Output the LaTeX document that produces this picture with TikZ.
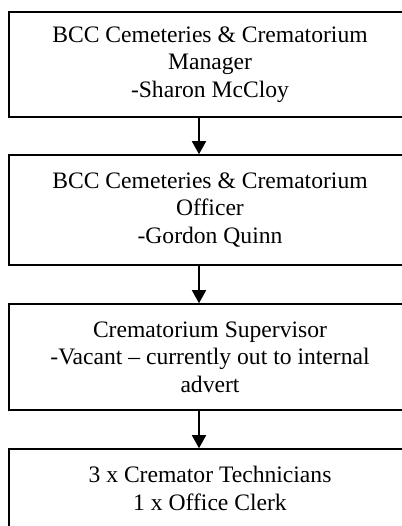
\documentclass[tikz,border=0pt]{standalone}
\usepackage{fontspec}
\setmainfont{Liberation Serif}
\usepackage{tikz}
\usetikzlibrary{arrows.meta, calc}

\tikzset{
    orgbox/.style={draw, line width=0.8pt, minimum width=201pt, inner sep=2pt,
        align=center, font=\fontsize{11.8}{13.8}\selectfont},
    orgarrow/.style={line width=0.8pt, -{Triangle[width=7pt, length=6.5pt]}}
}

\begin{document}
\begin{tikzpicture}[x=0.5pt, y=-0.5pt]
    \useasboundingbox (0, 0) rectangle (402, 526);
    \coordinate (ax) at (199, 0);

    \node[orgbox, minimum height=52.5pt] (mgr) at (210, 64.5)
        {BCC Cemeteries \& Crematorium\\Manager\\-Sharon McCloy};
    \node[orgbox, minimum height=55pt] (off) at (210, 210)
        {BCC Cemeteries \& Crematorium\\Officer\\-Gordon Quinn};
    \node[orgbox, minimum height=53pt] (sup) at (210, 357)
        {Crematorium Supervisor\\-Vacant -- currently out to internal\\advert};
    \node[orgbox, minimum height=39.5pt] (tech) at (210, 488.5)
        {3 x Cremator Technicians\\1 x Office Clerk};

    \draw[orgarrow] (mgr.south -| ax) -- (off.north -| ax);
    \draw[orgarrow] (off.south -| ax) -- (sup.north -| ax);
    \draw[orgarrow] (sup.south -| ax) -- (tech.north -| ax);
\end{tikzpicture}
\end{document}
